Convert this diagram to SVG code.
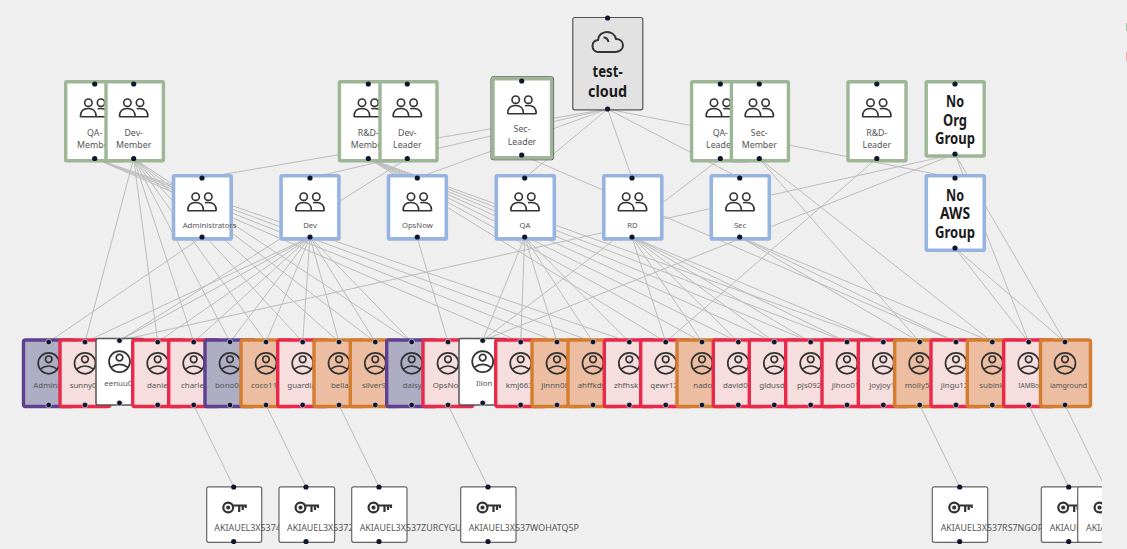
<svg xmlns="http://www.w3.org/2000/svg" width="1127" height="549" viewBox="0 0 1127 549">
<style>
text{font-family:"Noto Sans","Liberation Sans",sans-serif;fill:#555;font-size:7.9px}
g[id^="org-"] text{font-size:8.8px}
g[id^="aws-"] text{font-size:7.7px}
g[id^="key-"] text{font-size:8.9px}
.big{font-size:15.5px;font-weight:700;fill:#1a1a1a;text-anchor:middle}
.m{text-anchor:middle}
.org{fill:#fff;stroke:#9db796;stroke-width:3.4}
.aws{fill:#fff;stroke:#97b4e0;stroke-width:3.6}
.p,.r,.o{stroke-width:3.4}
.p{fill:#adadc4;stroke:#5f3f8f}
.r{fill:#f5dedd;stroke:#e8294a}
.o{fill:#ecbda0;stroke:#d47d30}
.w{fill:#fff;stroke:#555;stroke-width:1.5}
.k{fill:#fff;stroke:#666;stroke-width:1.2}
.d{fill:#11152e}
.ud{fill:#11152e;stroke:#fff;stroke-opacity:.55;stroke-width:1}
.ic{fill:none;stroke:#333;stroke-width:1.6}
#edges line{stroke:#bcbcbc;stroke-width:1}
</style>
<defs>
<clipPath id="view"><rect x="0" y="0" width="1102" height="549"/></clipPath>
<g id="i-group" class="ic"><circle cx="-6.3" cy="22.7" r="3.7"/><circle cx="6.3" cy="22.7" r="3.7"/><path d="M-14.3 36.7H14.3M-14.3 36.7C-14.3 31-11 28.5-6.3 28.5C-1.5 28.5 1.5 31 1.5 36.7M3 28.8C4 28.5 5 28.5 6.3 28.5C11 28.5 14.3 31 14.3 36.7"/></g>
<g id="i-user" class="ic" style="stroke-width:1.7"><circle cx="0" cy="24.8" r="10.5"/><circle cx="0" cy="20.8" r="3.3"/><path d="M-8.4 30.6Q0 24.4 8.4 30.6"/></g>
<g id="i-key" class="ic" style="stroke-width:2.2"><circle cx="-5.5" cy="20.5" r="4.9"/><circle cx="-5.5" cy="20.5" r="1"/><path d="M-.5 18.5H12V21M5.5 18.5V25M9 18.5V23"/></g>
</defs>
<rect width="1127" height="549" fill="#efefef"/>
<rect x="1126" y="23" width="1" height="8" fill="#a9c6a9"/>
<rect x="1126" y="52" width="1" height="9" fill="#e3b3b3"/>
<g id="edges" clip-path="url(#view)">
<line x1="607.6" y1="109" x2="202" y2="178"/><line x1="607.6" y1="109" x2="310" y2="178"/><line x1="607.6" y1="109" x2="417" y2="178"/><line x1="607.6" y1="109" x2="524.7" y2="178"/><line x1="607.6" y1="109" x2="632" y2="178"/><line x1="607.6" y1="109" x2="739.7" y2="178"/><line x1="607.6" y1="109" x2="955" y2="178"/>
<line x1="202" y1="237" x2="48.7" y2="342"/>
<line x1="133.7" y1="158.5" x2="85" y2="342"/><line x1="133.7" y1="158.5" x2="157.7" y2="342"/><line x1="133.7" y1="158.5" x2="193.7" y2="342"/><line x1="133.7" y1="158.5" x2="230" y2="342"/><line x1="133.7" y1="158.5" x2="266" y2="342"/><line x1="133.7" y1="158.5" x2="302.7" y2="342"/><line x1="133.7" y1="158.5" x2="339" y2="342"/><line x1="133.7" y1="158.5" x2="375.3" y2="342"/><line x1="133.7" y1="158.5" x2="411.7" y2="342"/>
<line x1="310" y1="237" x2="85" y2="342"/><line x1="310" y1="237" x2="119.5" y2="340.5"/><line x1="310" y1="237" x2="157.7" y2="342"/><line x1="310" y1="237" x2="193.7" y2="342"/><line x1="310" y1="237" x2="230" y2="342"/><line x1="310" y1="237" x2="266" y2="342"/><line x1="310" y1="237" x2="302.7" y2="342"/><line x1="310" y1="237" x2="339" y2="342"/><line x1="310" y1="237" x2="375.3" y2="342"/><line x1="310" y1="237" x2="411.7" y2="342"/>
<line x1="407.3" y1="158.5" x2="119.5" y2="340.5"/>
<line x1="417" y1="237" x2="448" y2="342"/>
<line x1="94.7" y1="158.5" x2="520.7" y2="342"/><line x1="94.7" y1="158.5" x2="557" y2="342"/><line x1="94.7" y1="158.5" x2="593" y2="342"/><line x1="94.7" y1="158.5" x2="629.3" y2="342"/>
<line x1="524.7" y1="237" x2="482.7" y2="340.5"/><line x1="524.7" y1="237" x2="520.7" y2="342"/><line x1="524.7" y1="237" x2="557" y2="342"/><line x1="524.7" y1="237" x2="593" y2="342"/><line x1="524.7" y1="237" x2="629.3" y2="342"/>
<line x1="720.3" y1="158.5" x2="482.7" y2="340.5"/>
<line x1="368.3" y1="158.5" x2="665.7" y2="342"/><line x1="368.3" y1="158.5" x2="702" y2="342"/><line x1="368.3" y1="158.5" x2="738.3" y2="342"/><line x1="368.3" y1="158.5" x2="774.3" y2="342"/><line x1="368.3" y1="158.5" x2="810.7" y2="342"/><line x1="368.3" y1="158.5" x2="847" y2="342"/><line x1="368.3" y1="158.5" x2="883.3" y2="342"/>
<line x1="632" y1="237" x2="665.7" y2="342"/><line x1="632" y1="237" x2="702" y2="342"/><line x1="632" y1="237" x2="738.3" y2="342"/><line x1="632" y1="237" x2="774.3" y2="342"/><line x1="632" y1="237" x2="810.7" y2="342"/><line x1="632" y1="237" x2="847" y2="342"/><line x1="632" y1="237" x2="883.3" y2="342"/>
<line x1="876.6" y1="158.5" x2="665.7" y2="342"/>
<line x1="521.7" y1="155" x2="956" y2="342"/>
<line x1="739.7" y1="237" x2="919.7" y2="342"/><line x1="739.7" y1="237" x2="956" y2="342"/><line x1="739.7" y1="237" x2="992.3" y2="342"/>
<line x1="759" y1="158.5" x2="919.7" y2="342"/><line x1="759" y1="158.5" x2="992.3" y2="342"/>
<line x1="955" y1="154" x2="119.5" y2="340.5"/><line x1="955" y1="154" x2="482.7" y2="340.5"/><line x1="955" y1="154" x2="1028.7" y2="342"/><line x1="955" y1="154" x2="1065" y2="342"/>
<line x1="955" y1="248" x2="1028.7" y2="342"/><line x1="955" y1="248" x2="1065" y2="342"/>
<line x1="193.7" y1="405" x2="233.7" y2="487"/><line x1="266" y1="405" x2="306" y2="487"/><line x1="339" y1="405" x2="379" y2="487"/><line x1="448" y1="405" x2="488" y2="487"/><line x1="919.7" y1="405" x2="959.7" y2="487"/><line x1="1028.7" y1="405" x2="1068.7" y2="487"/><line x1="1065" y1="405" x2="1105" y2="487"/>
</g>
<g id="test-cloud"><rect x="572.8" y="17.5" width="70" height="92.3" rx="2" fill="#e2e2e2" stroke="#555" stroke-width="1.2"/>
<path class="ic" style="stroke-width:2" d="M598 52H615C620 52 623 49 623 45.5C623 41.5 620 39 616 39C615 34.5 611 32 607 32C602 32 598 35.5 598 40C594.5 40.5 592.5 43 592.5 46C592.5 49.5 595 52 598 52ZM603.5 37.5C606 37.5 608 39.5 608.5 42"/>
<text class="big" x="607.6" y="77" textLength="30" lengthAdjust="spacingAndGlyphs">test-</text><text class="big" x="607.6" y="97" textLength="39" lengthAdjust="spacingAndGlyphs">cloud</text>
<circle class="d" cx="607.6" cy="18" r="2.6"/><circle class="d" cx="607.6" cy="109" r="2.6"/></g>
<g id="org-qa-member"><rect class="org" x="65.7" y="81.7" width="58" height="79" rx="1"/><use href="#i-group" x="94.7" y="80"/><text class="m" x="94.7" y="136">QA-</text><text class="m" x="94.7" y="148">Member</text><circle class="d" cx="94.7" cy="84" r="2.6"/><circle class="d" cx="94.7" cy="158.5" r="2.6"/></g>
<g id="org-dev-member"><rect class="org" x="106" y="81.7" width="57.4" height="79" rx="1"/><use href="#i-group" x="133.7" y="80"/><text class="m" x="133.7" y="136">Dev-</text><text class="m" x="133.7" y="148">Member</text><circle class="d" cx="133.7" cy="84" r="2.6"/><circle class="d" cx="133.7" cy="158.5" r="2.6"/></g>
<g id="org-rd-member"><rect class="org" x="339.4" y="81.7" width="58" height="79" rx="1"/><use href="#i-group" x="368.3" y="80"/><text class="m" x="368.3" y="136">R&amp;D-</text><text class="m" x="368.3" y="148">Member</text><circle class="d" cx="368.3" cy="84" r="2.6"/><circle class="d" cx="368.3" cy="158.5" r="2.6"/></g>
<g id="org-dev-leader"><rect class="org" x="380" y="81.7" width="57" height="79" rx="1"/><use href="#i-group" x="407.3" y="80"/><text class="m" x="407.3" y="136">Dev-</text><text class="m" x="407.3" y="148">Leader</text><circle class="d" cx="407.3" cy="84" r="2.6"/><circle class="d" cx="407.3" cy="158.5" r="2.6"/></g>
<g id="org-sec-leader"><rect x="491" y="76.8" width="62.6" height="83" rx="2" fill="none" stroke="#555" stroke-width="1"/><rect class="org" x="493" y="78.8" width="58.6" height="79" rx="1"/><use href="#i-group" x="522" y="77"/><text class="m" x="522" y="132">Sec-</text><text class="m" x="522" y="144.7">Leader</text><circle class="d" cx="521.7" cy="81" r="2.6"/><circle class="d" cx="521.7" cy="155" r="2.6"/></g>
<g id="org-qa-leader"><rect class="org" x="691.6" y="81.7" width="58" height="79" rx="1"/><use href="#i-group" x="720.3" y="80"/><text class="m" x="720.3" y="136">QA-</text><text class="m" x="720.3" y="148">Leader</text><circle class="d" cx="720.3" cy="84" r="2.6"/><circle class="d" cx="720.3" cy="158.5" r="2.6"/></g>
<g id="org-sec-member"><rect class="org" x="731.4" y="81.7" width="57" height="79" rx="1"/><use href="#i-group" x="759.3" y="80"/><text class="m" x="759.3" y="136">Sec-</text><text class="m" x="759.3" y="148">Member</text><circle class="d" cx="759.3" cy="84" r="2.6"/><circle class="d" cx="759.3" cy="158.5" r="2.6"/></g>
<g id="org-rd-leader"><rect class="org" x="848" y="81.7" width="58" height="79" rx="1"/><use href="#i-group" x="876.8" y="80"/><text class="m" x="876.8" y="136">R&amp;D-</text><text class="m" x="876.8" y="148">Leader</text><circle class="d" cx="876.8" cy="84" r="2.6"/><circle class="d" cx="876.8" cy="158.5" r="2.6"/></g>
<g id="no-org-group"><rect class="org" x="926.2" y="81.7" width="58" height="74.3" rx="1"/><text class="big" x="955" y="107" textLength="18" lengthAdjust="spacingAndGlyphs">No</text><text class="big" x="955" y="125.5" textLength="24" lengthAdjust="spacingAndGlyphs">Org</text><text class="big" x="955" y="144" textLength="40" lengthAdjust="spacingAndGlyphs">Group</text><circle class="d" cx="955" cy="84" r="2.6"/><circle class="d" cx="955" cy="154" r="2.6"/></g>
<g id="aws-administrators"><rect class="aws" x="173.5" y="175.8" width="57.7" height="63.1" rx="1"/><use href="#i-group" x="202" y="174"/><text x="182.7" y="227.7">Administrators</text><circle class="d" cx="202" cy="178" r="2.6"/><circle class="d" cx="202" cy="237" r="2.6"/></g>
<g id="aws-dev"><rect class="aws" x="281.1" y="175.8" width="57.8" height="63.1" rx="1"/><use href="#i-group" x="310" y="174"/><text class="m" x="310" y="227.7">Dev</text><circle class="d" cx="310" cy="178" r="2.6"/><circle class="d" cx="310" cy="237" r="2.6"/></g>
<g id="aws-opsnow"><rect class="aws" x="388.5" y="175.8" width="57.8" height="63.1" rx="1"/><use href="#i-group" x="417.3" y="174"/><text class="m" x="417.3" y="227.7">OpsNow</text><circle class="d" cx="417.3" cy="178" r="2.6"/><circle class="d" cx="417.3" cy="237" r="2.6"/></g>
<g id="aws-qa"><rect class="aws" x="496.3" y="175.8" width="58" height="63.1" rx="1"/><use href="#i-group" x="525" y="174"/><text class="m" x="525" y="227.7">QA</text><circle class="d" cx="524.7" cy="178" r="2.6"/><circle class="d" cx="524.7" cy="237" r="2.6"/></g>
<g id="aws-rd"><rect class="aws" x="603.8" y="175.8" width="58" height="63.1" rx="1"/><use href="#i-group" x="632.5" y="174"/><text class="m" x="632.5" y="227.7">RD</text><circle class="d" cx="632" cy="178" r="2.6"/><circle class="d" cx="632" cy="237" r="2.6"/></g>
<g id="aws-sec"><rect class="aws" x="711.3" y="175.8" width="58" height="63.1" rx="1"/><use href="#i-group" x="740" y="174"/><text class="m" x="740" y="227.7">Sec</text><circle class="d" cx="739.7" cy="178" r="2.6"/><circle class="d" cx="739.7" cy="237" r="2.6"/></g>
<g id="no-aws-group"><rect class="aws" x="926.3" y="175.8" width="58" height="74.4" rx="1"/><text class="big" x="955" y="200.5" textLength="18" lengthAdjust="spacingAndGlyphs">No</text><text class="big" x="955" y="219" textLength="30" lengthAdjust="spacingAndGlyphs">AWS</text><text class="big" x="955" y="238" textLength="40" lengthAdjust="spacingAndGlyphs">Group</text><circle class="d" cx="955" cy="178" r="2.6"/><circle class="d" cx="955" cy="248" r="2.6"/></g>
<g id="user-admin"><rect class="p" x="23.5" y="340" width="50" height="66.5" rx="2"/><use href="#i-user" x="48.7" y="338.5"/><text x="33.3" y="388.3">Admini</text><circle class="ud" cx="48.7" cy="342" r="2.8"/><circle class="ud" cx="48.7" cy="405" r="2.8"/></g>
<g id="user-sunny"><rect class="r" x="60" y="340" width="50" height="66.5" rx="2"/><use href="#i-user" x="85" y="338.5"/><text x="69.7" y="388.3">sunny0</text><circle class="ud" cx="85" cy="342" r="2.8"/><circle class="ud" cx="85" cy="405" r="2.8"/></g>
<g id="user-eenuu"><rect class="w" x="96" y="338.5" width="48" height="66.5" rx="2"/><use href="#i-user" x="119.5" y="336.8"/><text x="104.3" y="386">eenuu0</text><circle class="ud" cx="119.5" cy="340.5" r="2.8"/><circle class="ud" cx="119.5" cy="403" r="2.8"/></g>
<g id="user-daniel"><rect class="r" x="132.7" y="340" width="50" height="66.5" rx="2"/><use href="#i-user" x="157.7" y="338.5"/><text x="147" y="388.3">danie</text><circle class="ud" cx="157.7" cy="342" r="2.8"/><circle class="ud" cx="157.7" cy="405" r="2.8"/></g>
<g id="user-charles"><rect class="r" x="168.7" y="340" width="50" height="66.5" rx="2"/><use href="#i-user" x="193.7" y="338.5"/><text x="181" y="388.3">charle</text><circle class="ud" cx="193.7" cy="342" r="2.8"/><circle class="ud" cx="193.7" cy="405" r="2.8"/></g>
<g id="user-bono"><rect class="p" x="205" y="340" width="50" height="66.5" rx="2"/><use href="#i-user" x="230" y="338.5"/><text x="215" y="388.3">bono04</text><circle class="ud" cx="230" cy="342" r="2.8"/><circle class="ud" cx="230" cy="405" r="2.8"/></g>
<g id="user-coco"><rect class="o" x="241" y="340" width="50" height="66.5" rx="2"/><use href="#i-user" x="266" y="338.5"/><text x="251" y="388.3">coco11</text><circle class="ud" cx="266" cy="342" r="2.8"/><circle class="ud" cx="266" cy="405" r="2.8"/></g>
<g id="user-guardia"><rect class="r" x="277.7" y="340" width="50" height="66.5" rx="2"/><use href="#i-user" x="302.7" y="338.5"/><text x="287.3" y="388.3">guardia</text><circle class="ud" cx="302.7" cy="342" r="2.8"/><circle class="ud" cx="302.7" cy="405" r="2.8"/></g>
<g id="user-bella"><rect class="o" x="314" y="340" width="50" height="66.5" rx="2"/><use href="#i-user" x="339" y="338.5"/><text x="331" y="388.3">bella</text><circle class="ud" cx="339" cy="342" r="2.8"/><circle class="ud" cx="339" cy="405" r="2.8"/></g>
<g id="user-silver"><rect class="o" x="350.3" y="340" width="50" height="66.5" rx="2"/><use href="#i-user" x="375.3" y="338.5"/><text x="362" y="388.3">silver9</text><circle class="ud" cx="375.3" cy="342" r="2.8"/><circle class="ud" cx="375.3" cy="405" r="2.8"/></g>
<g id="user-daisy"><rect class="p" x="386.7" y="340" width="50" height="66.5" rx="2"/><use href="#i-user" x="411.7" y="338.5"/><text x="402.7" y="388.3">daisy</text><circle class="ud" cx="411.7" cy="342" r="2.8"/><circle class="ud" cx="411.7" cy="405" r="2.8"/></g>
<g id="user-opsnow"><rect class="r" x="423" y="340" width="50" height="66.5" rx="2"/><use href="#i-user" x="448" y="338.5"/><text x="432.7" y="388.3">OpsNo</text><circle class="ud" cx="448" cy="342" r="2.8"/><circle class="ud" cx="448" cy="405" r="2.8"/></g>
<g id="user-ilion"><rect class="w" x="459" y="338.5" width="48" height="66.5" rx="2"/><use href="#i-user" x="482.7" y="336.8"/><text x="476" y="386">Ilion</text><circle class="ud" cx="482.7" cy="340.5" r="2.8"/><circle class="ud" cx="482.7" cy="403" r="2.8"/></g>
<g id="user-kmj"><rect class="r" x="495.7" y="340" width="50" height="66.5" rx="2"/><use href="#i-user" x="520.7" y="338.5"/><text x="505.7" y="388.3">kmj663</text><circle class="ud" cx="520.7" cy="342" r="2.8"/><circle class="ud" cx="520.7" cy="405" r="2.8"/></g>
<g id="user-jinnn"><rect class="o" x="532" y="340" width="50" height="66.5" rx="2"/><use href="#i-user" x="557" y="338.5"/><text x="541.3" y="388.3">jinnn08</text><circle class="ud" cx="557" cy="342" r="2.8"/><circle class="ud" cx="557" cy="405" r="2.8"/></g>
<g id="user-ahffkdy"><rect class="o" x="568" y="340" width="50" height="66.5" rx="2"/><use href="#i-user" x="593" y="338.5"/><text x="577.7" y="388.3">ahffkdy</text><circle class="ud" cx="593" cy="342" r="2.8"/><circle class="ud" cx="593" cy="405" r="2.8"/></g>
<g id="user-zhfhsk"><rect class="r" x="604.3" y="340" width="50" height="66.5" rx="2"/><use href="#i-user" x="629.3" y="338.5"/><text x="614" y="388.3">zhfhsk1</text><circle class="ud" cx="629.3" cy="342" r="2.8"/><circle class="ud" cx="629.3" cy="405" r="2.8"/></g>
<g id="user-qewr"><rect class="r" x="640.7" y="340" width="50" height="66.5" rx="2"/><use href="#i-user" x="665.7" y="338.5"/><text x="650.3" y="388.3">qewr12</text><circle class="ud" cx="665.7" cy="342" r="2.8"/><circle class="ud" cx="665.7" cy="405" r="2.8"/></g>
<g id="user-nado"><rect class="o" x="677" y="340" width="50" height="66.5" rx="2"/><use href="#i-user" x="702" y="338.5"/><text x="693.3" y="388.3">nado</text><circle class="ud" cx="702" cy="342" r="2.8"/><circle class="ud" cx="702" cy="405" r="2.8"/></g>
<g id="user-david"><rect class="r" x="713.3" y="340" width="50" height="66.5" rx="2"/><use href="#i-user" x="738.3" y="338.5"/><text x="723" y="388.3">david03</text><circle class="ud" cx="738.3" cy="342" r="2.8"/><circle class="ud" cx="738.3" cy="405" r="2.8"/></g>
<g id="user-gldusd"><rect class="r" x="749.3" y="340" width="50" height="66.5" rx="2"/><use href="#i-user" x="774.3" y="338.5"/><text x="759.3" y="388.3">gldusd</text><circle class="ud" cx="774.3" cy="342" r="2.8"/><circle class="ud" cx="774.3" cy="405" r="2.8"/></g>
<g id="user-pjs"><rect class="r" x="785.7" y="340" width="50" height="66.5" rx="2"/><use href="#i-user" x="810.7" y="338.5"/><text x="797" y="388.3">pjs092</text><circle class="ud" cx="810.7" cy="342" r="2.8"/><circle class="ud" cx="810.7" cy="405" r="2.8"/></g>
<g id="user-jihoo"><rect class="r" x="822" y="340" width="50" height="66.5" rx="2"/><use href="#i-user" x="847" y="338.5"/><text x="831.7" y="388.3">jihoo01</text><circle class="ud" cx="847" cy="342" r="2.8"/><circle class="ud" cx="847" cy="405" r="2.8"/></g>
<g id="user-joyjoy"><rect class="r" x="858.3" y="340" width="50" height="66.5" rx="2"/><use href="#i-user" x="883.3" y="338.5"/><text x="869.3" y="388.3">joyjoy1</text><circle class="ud" cx="883.3" cy="342" r="2.8"/><circle class="ud" cx="883.3" cy="405" r="2.8"/></g>
<g id="user-molly"><rect class="o" x="894.7" y="340" width="50" height="66.5" rx="2"/><use href="#i-user" x="919.7" y="338.5"/><text x="904.7" y="388.3">molly55</text><circle class="ud" cx="919.7" cy="342" r="2.8"/><circle class="ud" cx="919.7" cy="405" r="2.8"/></g>
<g id="user-jingu"><rect class="r" x="931" y="340" width="50" height="66.5" rx="2"/><use href="#i-user" x="956" y="338.5"/><text x="940.7" y="388.3">jingu12</text><circle class="ud" cx="956" cy="342" r="2.8"/><circle class="ud" cx="956" cy="405" r="2.8"/></g>
<g id="user-subink"><rect class="o" x="967.3" y="340" width="50" height="66.5" rx="2"/><use href="#i-user" x="992.3" y="338.5"/><text x="979.3" y="388.3">subink</text><circle class="ud" cx="992.3" cy="342" r="2.8"/><circle class="ud" cx="992.3" cy="405" r="2.8"/></g>
<g id="user-iambot"><rect class="r" x="1003.7" y="340" width="50" height="66.5" rx="2"/><use href="#i-user" x="1028.7" y="338.5"/><text x="1018.3" y="388.3" style="font-size:6.6px">IAMBot</text><circle class="ud" cx="1028.7" cy="342" r="2.8"/><circle class="ud" cx="1028.7" cy="405" r="2.8"/></g>
<g id="user-iamground"><rect class="o" x="1040.5" y="340" width="50" height="66.5" rx="2"/><use href="#i-user" x="1065" y="338.5"/><text x="1050" y="388.3" style="font-size:7.1px">iamground</text><circle class="ud" cx="1065" cy="342" r="2.8"/><circle class="ud" cx="1065" cy="405" r="2.8"/></g>
<g id="key-1"><rect class="k" x="206.7" y="486.8" width="55" height="55.5" rx="2"/><use href="#i-key" x="233.7" y="487"/><text x="214.3" y="530.7">AKIAUEL3X5374</text><circle class="d" cx="233.7" cy="487" r="2.6"/><circle class="d" cx="233.7" cy="541.5" r="2.6"/></g>
<g id="key-2"><rect class="k" x="279" y="486.8" width="55.6" height="55.5" rx="2"/><use href="#i-key" x="306" y="487"/><text x="287" y="530.7">AKIAUEL3X5372</text><circle class="d" cx="306" cy="487" r="2.6"/><circle class="d" cx="306" cy="541.5" r="2.6"/></g>
<g id="key-3"><rect class="k" x="351.7" y="486.8" width="55.3" height="55.5" rx="2"/><use href="#i-key" x="379" y="487"/><text x="359.7" y="530.7">AKIAUEL3X537ZURCYGU</text><circle class="d" cx="379" cy="487" r="2.6"/><circle class="d" cx="379" cy="541.5" r="2.6"/></g>
<g id="key-4"><rect class="k" x="460.7" y="486.8" width="55.3" height="55.5" rx="2"/><use href="#i-key" x="488" y="487"/><text x="468.7" y="530.7">AKIAUEL3X537WOHATQ5P</text><circle class="d" cx="488" cy="487" r="2.6"/><circle class="d" cx="488" cy="541.5" r="2.6"/></g>
<g id="key-5"><rect class="k" x="932.3" y="486.8" width="55.4" height="55.5" rx="2"/><use href="#i-key" x="959.7" y="487"/><text x="940.7" y="530.7">AKIAUEL3X537RS7NGOP</text><circle class="d" cx="959.7" cy="487" r="2.6"/><circle class="d" cx="959.7" cy="541.5" r="2.6"/></g>
<g clip-path="url(#view)">
<g id="key-6"><rect class="k" x="1041.3" y="486.8" width="55.4" height="55.5" rx="2"/><use href="#i-key" x="1068.7" y="487"/><text x="1049.7" y="530.7">AKIAUE</text><circle class="d" cx="1068.7" cy="487" r="2.6"/><circle class="d" cx="1068.7" cy="541.5" r="2.6"/></g>
<g id="key-7"><rect class="k" x="1077.7" y="486.8" width="55.4" height="55.5" rx="2"/><use href="#i-key" x="1105" y="487"/><text x="1086" y="530.7">AKIA</text></g>
</g>
</svg>
